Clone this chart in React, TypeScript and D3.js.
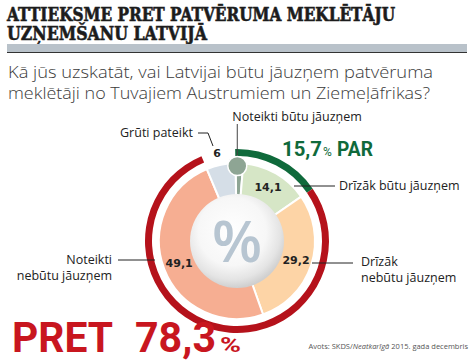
import * as d3 from 'd3';
import { useEffect, useRef } from 'react';

// survey answers, clockwise from the top
const categories = [
  'Noteikti būtu jāuzņem',
  'Drīzāk būtu jāuzņem',
  'Drīzāk nebūtu jāuzņem',
  'Noteikti nebūtu jāuzņem',
  'Grūti pateikt',
];
const values = [1.6, 14.1, 29.2, 49.1, 6];
const sliceColors = ['#8ea594', '#d6e6c6', '#fdd4a6', '#f6ae92', '#d5dee7'];
const valueLabels = ['1,6', '14,1', '29,2', '49,1', '6'];

const parGroup = [0, 1];
const pretGroup = [2, 3];

const fmt = (v: number) => v.toFixed(1).replace('.', ',');

export default function App() {
  const ref = useRef<SVGSVGElement | null>(null);

  useEffect(() => {
    const width = 475, height = 362;
    const cx = 237, cy = 241;
    const svg = d3.select(ref.current);
    svg.selectAll('*').remove();
    svg.attr('width', width).attr('height', height);

    const defs = svg.append('defs');
    const grad = defs.append('radialGradient').attr('id', 'ball')
      .attr('cx', '45%').attr('cy', '40%').attr('r', '60%');
    grad.append('stop').attr('offset', '0%').attr('stop-color', '#ffffff');
    grad.append('stop').attr('offset', '60%').attr('stop-color', '#f7f7f7');
    grad.append('stop').attr('offset', '85%').attr('stop-color', '#e4e4e4');
    grad.append('stop').attr('offset', '100%').attr('stop-color', '#cfcfcf');

    // title
    const title = svg.append('g').style('font-family', '"DejaVu Serif", serif')
      .style('font-weight', 'bold').attr('fill', '#1c1c1c')
      .attr('stroke', '#1c1c1c').attr('stroke-width', 0.6).style('font-size', '18px');
    title.append('text').attr('x', 7).attr('y', 21)
      .attr('textLength', 388).attr('lengthAdjust', 'spacingAndGlyphs')
      .text('ATTIEKSME PRET PATVĒRUMA MEKLĒTĀJU');
    title.append('text').attr('x', 7).attr('y', 40)
      .attr('textLength', 200).attr('lengthAdjust', 'spacingAndGlyphs')
      .text('UZŅEMŠANU LATVIJĀ');

    svg.append('rect').attr('x', 7).attr('y', 44).attr('width', 460).attr('height', 8).attr('fill', '#b9c2ca');
    svg.append('rect').attr('x', 7).attr('y', 52).attr('width', 460).attr('height', 1).attr('fill', '#333');

    const sub = svg.append('g').style('font-family', '"Open Sans", sans-serif')
      .style('font-weight', 300).attr('fill', '#3a3a3a').style('font-size', '17px');
    sub.append('text').attr('x', 8).attr('y', 78)
      .attr('textLength', 425).attr('lengthAdjust', 'spacingAndGlyphs')
      .text('Kā jūs uzskatāt, vai Latvijai būtu jāuzņem patvēruma');
    sub.append('text').attr('x', 8).attr('y', 99)
      .attr('textLength', 422).attr('lengthAdjust', 'spacingAndGlyphs')
      .text('meklētāji no Tuvajiem Austrumiem un Ziemeļāfrikas?');

    const start = -0.02;
    const pie = d3.pie<number>().sort(null).value(d => d)
      .startAngle(start).endAngle(start + 2 * Math.PI);
    const arcs = pie(values);
    const total = d3.sum(values);
    const angle = d3.scaleLinear().domain([0, total]).range([start, start + 2 * Math.PI]);

    const g = svg.append('g').attr('transform', `translate(${cx},${cy})`);

    const sliceArc = d3.arc<d3.PieArcDatum<number>>().innerRadius(44).outerRadius(78);
    g.selectAll('path.slice').data(arcs).enter().append('path')
      .attr('class', 'slice')
      .attr('d', sliceArc)
      .attr('fill', (d, i) => sliceColors[i])
      .attr('stroke', '#fff').attr('stroke-width', 2);

    g.append('circle').attr('r', 47).attr('fill', 'url(#ball)');
    g.append('text').attr('x', 0).attr('y', 21).attr('text-anchor', 'middle')
      .style('font-family', '"Open Sans", sans-serif').style('font-weight', 600)
      .style('font-size', '58px').attr('fill', '#b7c5d1').text('%');

    // outer ring: PAR / PRET
    const parSum = d3.sum(parGroup, i => values[i]);
    const pretSum = d3.sum(pretGroup, i => values[i]);
    const ring = d3.arc<any>().innerRadius(85).outerRadius(92);
    g.append('path').attr('d', ring({ startAngle: angle(0), endAngle: angle(parSum) }))
      .attr('fill', '#0f6a3b');
    g.append('path').attr('d', ring({ startAngle: angle(parSum), endAngle: angle(parSum + pretSum) }))
      .attr('fill', '#b5121b');

    // value labels on slices
    const labelArc = d3.arc<d3.PieArcDatum<number>>().innerRadius(62).outerRadius(62);
    const lab = svg.append('g').style('font-family', '"DejaVu Sans", sans-serif')
      .style('font-weight', 'bold').style('font-size', '11px').attr('fill', '#222');
    [1, 2, 3].forEach(i => {
      const [x, y] = labelArc.centroid(arcs[i]);
      lab.append('text').attr('x', cx + x).attr('y', cy + y + 4)
        .attr('text-anchor', 'middle').text(valueLabels[i]);
    });

    // small slice bubble
    const smallMid = (arcs[0].startAngle + arcs[0].endAngle) / 2;
    const bx = cx + Math.sin(smallMid) * 75 - 2, by = cy - Math.cos(smallMid) * 75;
    svg.append('line').attr('x1', bx).attr('x2', bx).attr('y1', 124).attr('y2', by - 9)
      .attr('stroke', '#444').attr('stroke-width', 1);
    svg.append('circle').attr('cx', bx).attr('cy', by).attr('r', 9.5)
      .attr('fill', sliceColors[0]).attr('stroke', '#fff').attr('stroke-width', 1.5);
    lab.append('text').attr('x', bx).attr('y', by + 4).attr('text-anchor', 'middle')
      .text(valueLabels[0]);

    // "6" label outside
    lab.append('text').attr('x', 217).attr('y', 157).attr('text-anchor', 'middle').text(valueLabels[4]);

    // category labels and leaders
    const cat = svg.append('g').style('font-family', '"Open Sans", sans-serif')
      .style('font-size', '12.5px').attr('fill', '#222');
    const lines = svg.append('g').attr('stroke', '#222').attr('stroke-width', 1).attr('fill', 'none');

    cat.append('text').attr('x', bx - 5).attr('y', 121).text(categories[0]);

    lines.append('path').attr('d', 'M294,186H335');
    cat.append('text').attr('x', 339).attr('y', 190).text(categories[1]);

    lines.append('path').attr('d', 'M312,263H353');
    cat.append('text').attr('x', 361).attr('y', 266).text('Drīzāk');
    cat.append('text').attr('x', 361).attr('y', 282).text('nebūtu jāuzņem');

    lines.append('path').attr('d', 'M118,260H155');
    cat.append('text').attr('x', 112).attr('y', 264).attr('text-anchor', 'end').text('Noteikti');
    cat.append('text').attr('x', 112).attr('y', 280).attr('text-anchor', 'end').text('nebūtu jāuzņem');

    lines.append('path').attr('d', 'M198,133H208L213,146');
    cat.append('text').attr('x', 193).attr('y', 137).attr('text-anchor', 'end').text(categories[4]);

    // PAR total
    const bigFont = '"Liberation Sans Narrow", "Roboto", sans-serif';
    const parG = svg.append('g').style('font-family', bigFont).style('font-weight', 'bold').attr('fill', '#0f6a3b');
    parG.append('text').attr('x', 282).attr('y', 156).style('font-size', '20px')
      .attr('textLength', 40).attr('lengthAdjust', 'spacingAndGlyphs').text(fmt(parSum));
    parG.append('text').attr('x', 323).attr('y', 156).style('font-size', '12px').style('font-weight', 'normal').text('%');
    parG.append('text').attr('x', 337).attr('y', 156).style('font-size', '20px')
      .attr('textLength', 36).attr('lengthAdjust', 'spacingAndGlyphs').text('PAR');

    // PRET total
    const pretG = svg.append('g').style('font-family', bigFont).style('font-weight', 'bold').attr('fill', '#c8161f');
    pretG.append('text').attr('x', 12).attr('y', 352).style('font-size', '43px')
      .attr('textLength', 101).attr('lengthAdjust', 'spacingAndGlyphs').text('PRET');
    pretG.append('text').attr('x', 135).attr('y', 352).style('font-size', '43px')
      .attr('textLength', 81).attr('lengthAdjust', 'spacingAndGlyphs').text(fmt(pretSum));
    pretG.append('text').attr('x', 220).attr('y', 352).style('font-size', '21px')
      .attr('textLength', 21).attr('lengthAdjust', 'spacingAndGlyphs').text('%');

    // source
    const src = svg.append('text').attr('x', 468).attr('y', 349).attr('text-anchor', 'end')
      .style('font-family', '"Open Sans", sans-serif').style('font-size', '7.5px').attr('fill', '#555');
    src.append('tspan').text('Avots: SKDS/');
    src.append('tspan').style('font-style', 'italic').text('Neatkarīgā');
    src.append('tspan').text(' 2015. gada decembris');
  }, []);

  return (
    <div style={{ position: 'absolute', left: 0, top: 0, background: '#fff' }}>
      <svg ref={ref} style={{ display: 'block' }} />
    </div>
  );
}
